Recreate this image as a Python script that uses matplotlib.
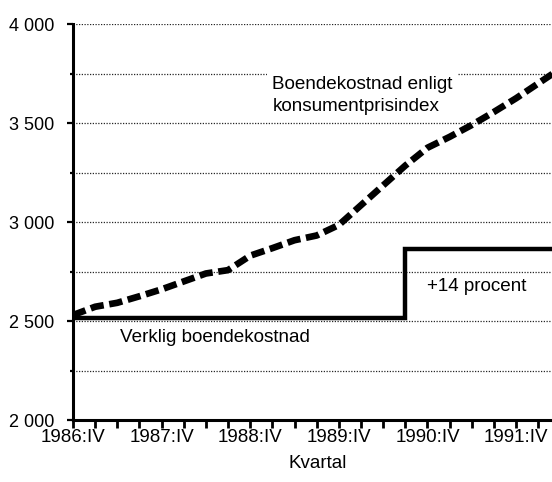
import matplotlib
matplotlib.use("Agg")
import matplotlib.pyplot as plt
from matplotlib.ticker import MultipleLocator, FixedLocator

plt.rcParams['font.family'] = ['Liberation Sans', 'DejaVu Sans']

# quarter index 0 = 1986:IV
quarters = list(range(23))
kpi_cost = [2530, 2572, 2592, 2625, 2660, 2700, 2740, 2757, 2830, 2868, 2908, 2932,
            2985, 3085, 3185, 3285, 3375, 3430, 3490, 3556, 3625, 3700, 3775]
real_cost = [2515, 2515, 2515, 2515, 2515, 2515, 2515, 2515, 2515, 2515, 2515, 2515,
             2515, 2515, 2515, 2865, 2865, 2865, 2865, 2865, 2865, 2865, 2865]
year_ticks = [0, 4, 8, 12, 16, 20]
year_labels = ['1986:IV', '1987:IV', '1988:IV', '1989:IV', '1990:IV', '1991:IV']
y_major = [2000, 2500, 3000, 3500, 4000]
y_labels = ['2 000', '2 500', '3 000', '3 500', '4 000']

fig = plt.figure(figsize=(5.52, 4.82), dpi=100)
ax = fig.add_axes([0.1322, 0.1286, 0.8678, 0.8216])

ax.plot(quarters, real_cost, color='black', lw=3.2, drawstyle='steps-post',
        solid_joinstyle='miter', zorder=3)
ax.plot(quarters, kpi_cost, color='black', lw=4.8, dashes=(2.0, 0.85), zorder=4)

ax.set_xlim(0, 21.62)
ax.set_ylim(2000, 4000)

ax.yaxis.set_major_locator(FixedLocator(y_major))
ax.set_yticklabels(y_labels)
ax.yaxis.set_minor_locator(MultipleLocator(250))
ax.xaxis.set_major_locator(FixedLocator(year_ticks))
ax.set_xticklabels(year_labels)
ax.xaxis.set_minor_locator(MultipleLocator(1))

ax.grid(True, which='both', axis='y', color='0.15', lw=0.9, ls=(0, (1, 1.2)))
ax.set_axisbelow(True)

for s in ['top', 'right']:
    ax.spines[s].set_visible(False)
for s in ['left', 'bottom']:
    ax.spines[s].set_linewidth(2.2)

ax.tick_params(axis='y', which='major', direction='out', length=4.5, width=1.6,
               labelsize=13, pad=9)
ax.tick_params(axis='y', which='minor', direction='out', length=2.5, width=1.6)
ax.tick_params(axis='x', which='both', direction='out', length=5.5, width=2,
               labelsize=13.5, pad=1)

ax.set_xlabel('Kvartal', fontsize=13.5)
ax.xaxis.set_label_coords(0.51, -0.088)

ax.text(9.0, 3640, 'Boendekostnad enligt\nkonsumentprisindex', fontsize=13.6,
        va='center', ha='left', linespacing=1.4,
        bbox=dict(facecolor='white', edgecolor='none', pad=4), zorder=2)
ax.text(2.1, 2419, 'Verklig boendekostnad', fontsize=13.6, va='center', ha='left')
ax.text(16.0, 2672, '+14 procent', fontsize=13.6, va='center', ha='left')

fig.savefig('out.png', dpi=100)
